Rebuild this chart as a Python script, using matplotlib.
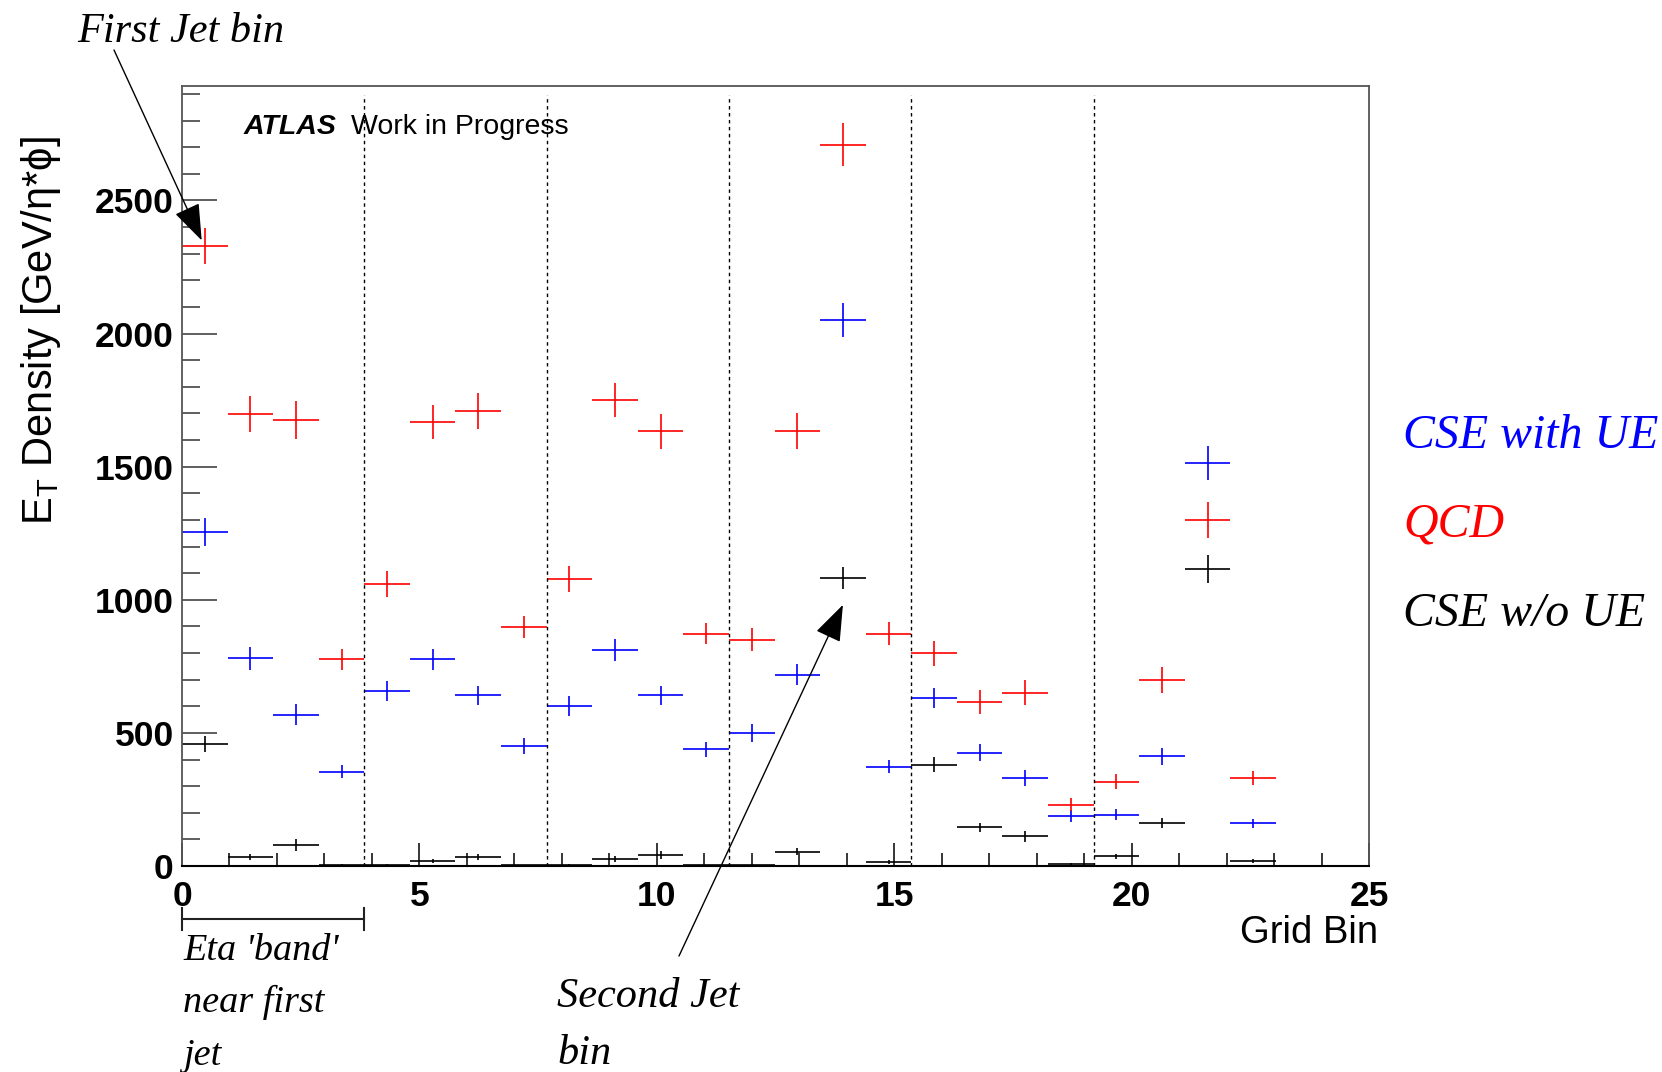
import matplotlib
matplotlib.use("Agg")
import matplotlib.pyplot as plt
from matplotlib.ticker import MultipleLocator
from matplotlib.transforms import blended_transform_factory

# grid bins: 24 bins, 4 per eta band
BIN_WIDTH = 0.96
BINS_PER_BAND = 4
bins = list(range(24))

qcd = [2329, 1697, 1674, 776, 1059, 1668, 1709, 898, 1078, 1751, 1633, 873,
       850, 1633, 2709, 873, 800, 616, 651, 231, 316, 700, 1300, 331]
qcd_err = [67, 67, 71, 39, 48, 64, 66, 42, 50, 65, 65, 39,
           44, 67, 81, 44, 47, 46, 46, 23, 28, 49, 68, 26]

cse_ue = [1254, 780, 569, 354, 658, 776, 641, 450, 600, 811, 641, 439,
          500, 719, 2051, 373, 630, 426, 331, 188, 193, 413, 1513, 161]
cse_ue_err = [52, 42, 40, 25, 38, 40, 37, 29, 37, 42, 36, 28,
              34, 39, 64, 24, 38, 32, 31, 21, 22, 32, 64, 17]

cse_noue = [459, 34, 80, 4, 4, 19, 34, 3, 5, 27, 41, 3,
            4, 54, 1081, 14, 380, 146, 111, 8, 37, 161, 1116, 19]
cse_noue_err = [29, 10, 23, 3, 3, 9, 11, 2, 3, 12, 14, 2,
                3, 14, 42, 8, 28, 17, 19, 5, 9, 19, 52, 6]

W, H = 1662, 1072
SANS = ["Liberation Sans", "DejaVu Sans"]
SERIF = ["Liberation Serif", "DejaVu Serif"]

plt.rcParams["font.family"] = SANS
plt.rcParams["mathtext.default"] = "regular"


def fx(px):
    return px / W


def fy(py):
    return 1 - py / H


fig = plt.figure(figsize=(W / 100, H / 100), dpi=100)
ax = fig.add_axes([fx(182), fy(866), fx(1369) - fx(182), fy(86) - fy(866)])

centers = [(b + 0.5) * BIN_WIDTH for b in bins]

for vals, errs, col in [(cse_ue, cse_ue_err, "#0000ff"),
                        (qcd, qcd_err, "#ff0000"),
                        (cse_noue, cse_noue_err, "black")]:
    ax.errorbar(centers, vals, xerr=BIN_WIDTH / 2, yerr=errs, fmt="none",
                ecolor=col, elinewidth=1.2, capsize=0)

band_edges = [k * BINS_PER_BAND * BIN_WIDTH for k in range(1, len(bins) // BINS_PER_BAND)]
ax.vlines(band_edges, 0, 2895, colors="black", linestyles=(0, (2.5, 2.5)), lw=1.0)

ax.set_xlim(0, 25)
ax.set_ylim(0, 2930)
ax.xaxis.set_major_locator(MultipleLocator(5))
ax.xaxis.set_minor_locator(MultipleLocator(1))
ax.yaxis.set_major_locator(MultipleLocator(500))
ax.yaxis.set_minor_locator(MultipleLocator(100))

ax.tick_params(axis="y", which="major", direction="in", length=25.5, width=1.1,
               color="#333333", pad=6, labelsize=25.5)
ax.tick_params(axis="y", which="minor", direction="in", length=12.7, width=1.1,
               color="#333333")
ax.tick_params(axis="x", which="major", direction="in", length=16.5, width=1.1,
               color="black", pad=10, labelsize=25.5)
ax.tick_params(axis="x", which="minor", direction="in", length=9.1, width=1.1,
               color="black")
for lbl in ax.get_xticklabels() + ax.get_yticklabels():
    lbl.set_fontweight("bold")

for side in ["top", "left", "right"]:
    ax.spines[side].set_color("#555555")
    ax.spines[side].set_linewidth(1.3)
ax.spines["bottom"].set_color("black")
ax.spines["bottom"].set_linewidth(1.5)

# axis titles
fig.text(fx(41), fy(331), "E$_{\\mathregular{T}}$ Density [GeV/η*ϕ]",
         rotation=90, ha="center", va="center", fontsize=30)
fig.text(fx(1378), fy(943), "Grid Bin", ha="right", va="baseline", fontsize=27.5)

# ATLAS label
fig.text(fx(244), fy(134), "ATLAS", fontsize=20.5, fontweight="bold",
         style="italic", va="baseline")
fig.text(fx(351), fy(134), "Work in Progress", fontsize=20.5, va="baseline")

# legend texts
for label, col, base in [("CSE with UE", "#0000ff", 448),
                         ("QCD", "#ff0000", 537),
                         ("CSE w/o UE", "black", 626)]:
    fig.text(fx(1403), fy(base), label, color=col, family=SERIF,
             style="italic", fontsize=34.5, va="baseline")

# annotations
note = dict(family=SERIF, style="italic", fontsize=30.5, va="baseline")
fig.text(fx(77), fy(42), "First Jet bin", **note)
fig.text(fx(557), fy(1007), "Second Jet", **note)
fig.text(fx(557), fy(1064), "bin", **note)
band_note = dict(note, fontsize=27.5)
fig.text(fx(183), fy(960), "Eta 'band'", **band_note)
fig.text(fx(183), fy(1012), "near first", **band_note)
fig.text(fx(183), fy(1065), "jet", **band_note)

arrow = dict(arrowstyle="-|>,head_length=1.15,head_width=0.42",
             mutation_scale=20, color="black", lw=1.0, shrinkA=0, shrinkB=0)
ax.annotate("", xy=(0.415, 2350), xycoords="data",
            xytext=(114, H - 50), textcoords="figure pixels",
            arrowprops=arrow, annotation_clip=False)
ax.annotate("", xy=(13.92, 981), xycoords="data",
            xytext=(679, H - 956), textcoords="figure pixels",
            arrowprops=arrow, annotation_clip=False)

# bracket marking the first eta band
trans = blended_transform_factory(ax.transData, ax.transAxes)
band_end = BINS_PER_BAND * BIN_WIDTH
y_br = (866 - 919) / 780
y_lo, y_hi = (866 - 930) / 780, (866 - 908) / 780
ax.plot([0, band_end], [y_br, y_br], color="#222222", lw=1.5,
        transform=trans, clip_on=False)
for xe in [0, band_end]:
    ax.plot([xe, xe], [y_lo, y_hi], color="#222222", lw=1.5,
            transform=trans, clip_on=False)

fig.savefig("out.png", dpi=100)
